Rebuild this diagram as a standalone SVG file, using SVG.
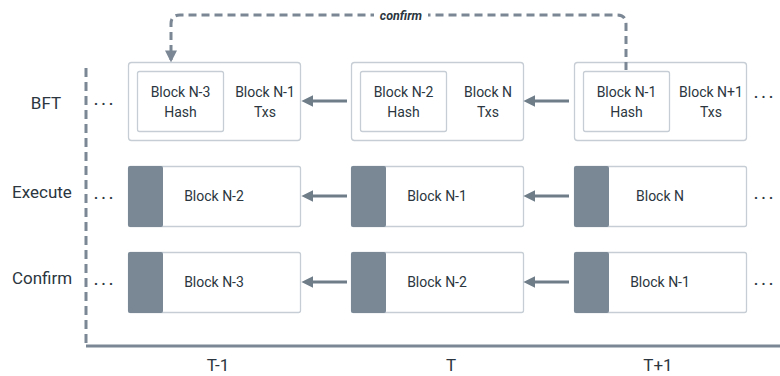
<svg xmlns="http://www.w3.org/2000/svg" width="780" height="376" viewBox="0 0 780 376">
  <defs>
    <marker id="head" viewBox="0 0 10 10" refX="2" refY="5" markerWidth="4" markerHeight="4" orient="auto-start-reverse">
      <path d="M0,0 L10,5 L0,10 z" fill="#6f7d89"/>
    </marker>
    <marker id="headDash" viewBox="0 0 10 10" refX="8" refY="5" markerWidth="4" markerHeight="4" orient="auto">
      <path d="M0,0 L10,5 L0,10 z" fill="#7b8794"/>
    </marker>
    <style>
      .box { fill: #ffffff; stroke: #c6cdd4; stroke-width: 1.3; }
      .inner { fill: #ffffff; stroke: #c6cdd4; stroke-width: 1.3; }
      .bar { fill: #7a8896; }
      .t { font-family: Roboto, "Liberation Sans", sans-serif; font-size: 14px; fill: #2b3640; text-anchor: middle; }
      .lab { font-family: Roboto, "Liberation Sans", sans-serif; font-size: 17px; fill: #2b3640; text-anchor: middle; }
      .dots { font-family: Roboto, "Liberation Sans", sans-serif; font-size: 14px; font-weight: bold; fill: #2b3640; letter-spacing: 3.5px; }
      .arrow { stroke: #6f7d89; stroke-width: 3; fill: none; }
      .axis { stroke: #7b8794; stroke-width: 3; fill: none; }
    </style>
  </defs>

  <!-- axes -->
  <g id="axes">
    <line class="axis" x1="86" y1="68" x2="86" y2="345" stroke-dasharray="9 5"/>
    <line class="axis" x1="86" y1="346" x2="780" y2="346"/>
  </g>

  <!-- row and column labels -->
  <g id="labels">
    <text class="lab" x="46" y="109">BFT</text>
    <text class="lab" x="42" y="198">Execute</text>
    <text class="lab" x="42" y="284">Confirm</text>
    <text class="lab" x="218" y="371">T-1</text>
    <text class="lab" x="451" y="371">T</text>
    <text class="lab" x="658" y="371">T+1</text>
    <text class="dots" x="94" y="105">...</text>
    <text class="dots" x="94" y="199">...</text>
    <text class="dots" x="94" y="285">...</text>
    <text class="dots" x="754" y="98">...</text>
    <text class="dots" x="754" y="199">...</text>
    <text class="dots" x="754" y="285">...</text>
  </g>

  <!-- BFT row -->
  <g id="bft-1">
    <rect class="box" x="128.5" y="62.5" width="172" height="78" rx="3"/>
    <rect class="inner" x="137.5" y="71.5" width="86" height="60" rx="2"/>
    <text class="t" x="180.5" y="97">Block N-3</text>
    <text class="t" x="180.5" y="117">Hash</text>
    <text class="t" x="265" y="97">Block N-1</text>
    <text class="t" x="265" y="117">Txs</text>
  </g>
  <g id="bft-2">
    <rect class="box" x="351.5" y="62.5" width="172" height="78" rx="3"/>
    <rect class="inner" x="360.5" y="71.5" width="86" height="60" rx="2"/>
    <text class="t" x="403.5" y="97">Block N-2</text>
    <text class="t" x="403.5" y="117">Hash</text>
    <text class="t" x="488" y="97">Block N</text>
    <text class="t" x="488" y="117">Txs</text>
  </g>
  <g id="bft-3">
    <rect class="box" x="574.5" y="62.5" width="172" height="78" rx="3"/>
    <rect class="inner" x="583.5" y="71.5" width="86" height="60" rx="2"/>
    <text class="t" x="626.5" y="97">Block N-1</text>
    <text class="t" x="626.5" y="117">Hash</text>
    <text class="t" x="711" y="97">Block N+1</text>
    <text class="t" x="711" y="117">Txs</text>
  </g>

  <!-- Execute row -->
  <g id="exec-1">
    <rect class="box" x="128.5" y="166.5" width="172" height="60" rx="2"/>
    <rect class="bar" x="128" y="166" width="35" height="61" rx="2"/>
    <text class="t" x="214" y="201">Block N-2</text>
  </g>
  <g id="exec-2">
    <rect class="box" x="351.5" y="166.5" width="172" height="60" rx="2"/>
    <rect class="bar" x="351" y="166" width="35" height="61" rx="2"/>
    <text class="t" x="437" y="201">Block N-1</text>
  </g>
  <g id="exec-3">
    <rect class="box" x="574.5" y="166.5" width="172" height="60" rx="2"/>
    <rect class="bar" x="574" y="166" width="35" height="61" rx="2"/>
    <text class="t" x="660" y="201">Block N</text>
  </g>

  <!-- Confirm row -->
  <g id="conf-1">
    <rect class="box" x="128.5" y="252.5" width="172" height="60" rx="2"/>
    <rect class="bar" x="128" y="252" width="35" height="61" rx="2"/>
    <text class="t" x="214" y="287">Block N-3</text>
  </g>
  <g id="conf-2">
    <rect class="box" x="351.5" y="252.5" width="172" height="60" rx="2"/>
    <rect class="bar" x="351" y="252" width="35" height="61" rx="2"/>
    <text class="t" x="437" y="287">Block N-2</text>
  </g>
  <g id="conf-3">
    <rect class="box" x="574.5" y="252.5" width="172" height="60" rx="2"/>
    <rect class="bar" x="574" y="252" width="35" height="61" rx="2"/>
    <text class="t" x="660" y="287">Block N-1</text>
  </g>

  <!-- connectors -->
  <g id="connectors">
    <line class="arrow" x1="347" y1="101" x2="311" y2="101" marker-end="url(#head)"/>
    <line class="arrow" x1="569" y1="101" x2="533" y2="101" marker-end="url(#head)"/>
    <line class="arrow" x1="347" y1="196" x2="311" y2="196" marker-end="url(#head)"/>
    <line class="arrow" x1="569" y1="196" x2="533" y2="196" marker-end="url(#head)"/>
    <line class="arrow" x1="347" y1="282" x2="311" y2="282" marker-end="url(#head)"/>
    <line class="arrow" x1="569" y1="282" x2="533" y2="282" marker-end="url(#head)"/>
    <path d="M626,70 L626,24 Q626,15 617,15 L180,15 Q171,15 171,24 L171,60" fill="none" stroke="#7b8794" stroke-width="3" stroke-dasharray="8 5" marker-end="url(#headDash)"/>
    <rect x="374" y="6" width="54" height="18" fill="#ffffff"/>
    <text x="401" y="20" text-anchor="middle" font-family="Roboto, 'Liberation Sans', sans-serif" font-size="12.5" font-weight="bold" font-style="italic" fill="#2b3640">confirm</text>
  </g>
</svg>
